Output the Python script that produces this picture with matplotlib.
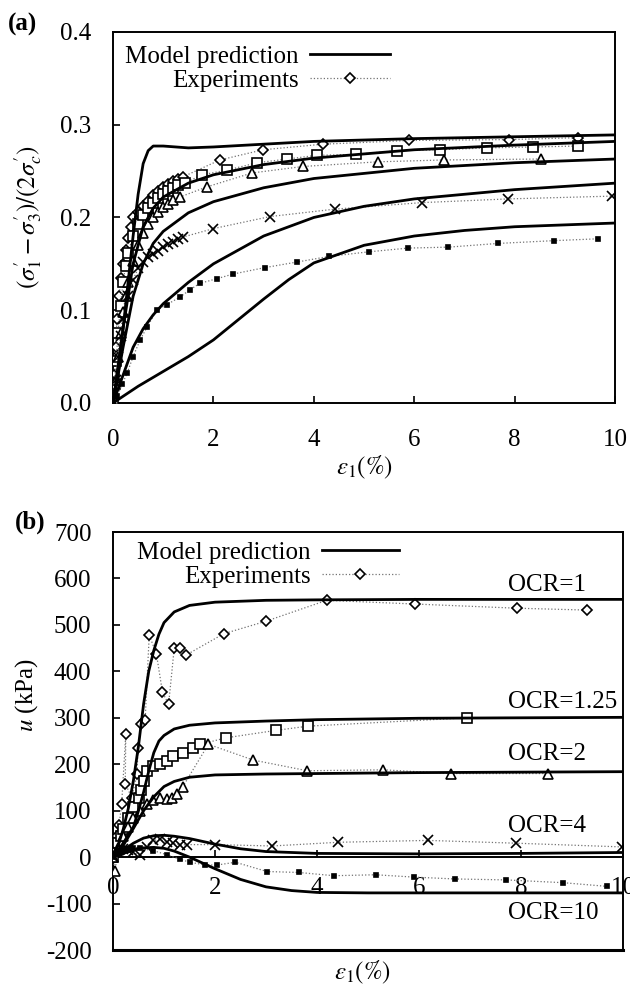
import numpy as np
import matplotlib
matplotlib.use("Agg")
import matplotlib.pyplot as plt

plt.rcParams['font.family'] = ['Liberation Serif', 'DejaVu Serif']
plt.rcParams['mathtext.fontset'] = 'stix'
plt.rcParams['axes.unicode_minus'] = False
plt.rcParams['font.size'] = 18

# ---------------- panel (a): stress ratio vs axial strain ----------------
# model predictions, one per OCR (1, 1.25, 2, 4, 10)
a_mod_x1 = [0, 0.1, 0.2, 0.3, 0.4, 0.5, 0.6, 0.7, 0.8, 1.0, 1.5, 2, 3, 4, 6, 8, 10]
a_mod_y1 = [0, 0.03, 0.08, 0.13, 0.18, 0.225, 0.258, 0.272, 0.277, 0.277, 0.275, 0.276, 0.279, 0.282, 0.285, 0.287, 0.289]
a_mod_x2 = [0, 0.2, 0.4, 0.6, 0.8, 1.0, 1.5, 2, 3, 4, 6, 8, 10]
a_mod_y2 = [0, 0.08, 0.15, 0.19, 0.21, 0.222, 0.237, 0.246, 0.257, 0.264, 0.273, 0.278, 0.282]
a_mod_x3 = [0, 0.2, 0.4, 0.6, 0.8, 1.0, 1.5, 2, 3, 4, 6, 8, 10]
a_mod_y3 = [0, 0.06, 0.115, 0.15, 0.172, 0.185, 0.205, 0.217, 0.232, 0.242, 0.253, 0.259, 0.263]
a_mod_x4 = [0, 0.2, 0.4, 0.6, 0.8, 1.0, 1.5, 2, 3, 4, 5, 6, 8, 10]
a_mod_y4 = [0, 0.03, 0.06, 0.08, 0.095, 0.107, 0.13, 0.15, 0.18, 0.2, 0.212, 0.22, 0.23, 0.237]
a_mod_x5 = [0, 0.5, 1, 1.5, 2, 2.5, 3, 3.5, 4, 5, 6, 7, 8, 9, 10]
a_mod_y5 = [0, 0.018, 0.034, 0.05, 0.068, 0.09, 0.112, 0.133, 0.151, 0.17, 0.18, 0.186, 0.19, 0.192, 0.194]

# experiments
a_exp_x1 = [0, 0.02, 0.05, 0.08, 0.12, 0.16, 0.2, 0.25, 0.3, 0.35, 0.4, 0.5, 0.6, 0.7, 0.8, 0.9, 1.0, 1.1, 1.2, 1.3, 1.4, 2.13, 2.99, 4.18, 5.9, 7.89, 9.27]
a_exp_y1 = [0, 0.03, 0.06, 0.09, 0.115, 0.135, 0.15, 0.165, 0.178, 0.19, 0.2, 0.206, 0.212, 0.218, 0.224, 0.229, 0.233, 0.236, 0.239, 0.242, 0.244, 0.262, 0.273, 0.279, 0.283, 0.284, 0.286]
a_exp_x2 = [0, 0.03, 0.06, 0.1, 0.15, 0.2, 0.25, 0.3, 0.4, 0.5, 0.6, 0.7, 0.8, 0.9, 1.0, 1.1, 1.2, 1.3, 1.43, 1.77, 2.27, 2.87, 3.47, 4.06, 4.84, 5.65, 6.51, 7.45, 8.37, 9.26]
a_exp_y2 = [0, 0.02, 0.045, 0.075, 0.105, 0.13, 0.148, 0.162, 0.18, 0.193, 0.203, 0.21, 0.216, 0.221, 0.225, 0.229, 0.232, 0.235, 0.237, 0.246, 0.251, 0.259, 0.263, 0.267, 0.268, 0.272, 0.273, 0.275, 0.276, 0.277]
a_exp_x3 = [0, 0.05, 0.1, 0.15, 0.2, 0.25, 0.3, 0.4, 0.5, 0.6, 0.7, 0.8, 0.9, 1.0, 1.1, 1.2, 1.33, 1.87, 2.77, 3.79, 5.28, 6.6, 8.52]
a_exp_y3 = [0, 0.025, 0.05, 0.075, 0.098, 0.115, 0.13, 0.153, 0.17, 0.183, 0.193, 0.2, 0.206, 0.211, 0.215, 0.219, 0.222, 0.233, 0.248, 0.255, 0.26, 0.262, 0.263]
a_exp_x4 = [0, 0.05, 0.1, 0.15, 0.2, 0.3, 0.4, 0.5, 0.6, 0.7, 0.8, 0.9, 1.0, 1.1, 1.2, 1.3, 1.4, 2.0, 3.13, 4.42, 6.15, 7.87, 9.94]
a_exp_y4 = [0, 0.025, 0.05, 0.072, 0.09, 0.115, 0.133, 0.145, 0.152, 0.157, 0.161, 0.164, 0.168, 0.171, 0.174, 0.177, 0.179, 0.188, 0.201, 0.209, 0.216, 0.22, 0.223]
a_exp_x5 = [0, 0.08, 0.18, 0.28, 0.4, 0.54, 0.68, 0.87, 1.07, 1.33, 1.53, 1.73, 2.07, 2.39, 3.03, 3.67, 4.3, 5.1, 5.88, 6.68, 7.67, 8.78, 9.66]
a_exp_y5 = [0, 0.007, 0.02, 0.032, 0.05, 0.068, 0.082, 0.1, 0.106, 0.114, 0.122, 0.129, 0.134, 0.139, 0.146, 0.152, 0.158, 0.163, 0.167, 0.168, 0.172, 0.175, 0.177]

# ---------------- panel (b): pore pressure vs axial strain ----------------
b_mod_x1 = [0, 0.1, 0.2, 0.3, 0.4, 0.5, 0.6, 0.7, 0.8, 0.9, 1.0, 1.2, 1.5, 2, 3, 4, 6, 8, 10]
b_mod_y1 = [0, 25, 60, 105, 165, 240, 330, 400, 445, 480, 505, 528, 542, 549, 553, 554, 555, 555, 555]
b_mod_x2 = [0, 0.2, 0.4, 0.5, 0.6, 0.7, 0.8, 0.9, 1.0, 1.2, 1.5, 2, 3, 4, 6, 8, 10]
b_mod_y2 = [0, 30, 65, 100, 140, 185, 225, 250, 262, 276, 284, 289, 293, 296, 299, 300, 301]
b_mod_x3 = [0, 0.2, 0.4, 0.6, 0.8, 1.0, 1.2, 1.5, 2, 3, 4, 6, 8, 10]
b_mod_y3 = [0, 25, 62, 100, 130, 152, 163, 172, 177, 179, 180, 182, 183, 184]
b_mod_x4 = [0, 0.2, 0.4, 0.6, 0.8, 1.0, 1.2, 1.5, 2, 2.5, 3, 4, 6, 8, 10]
b_mod_y4 = [0, 15, 30, 41, 46, 47, 45, 40, 28, 18, 12, 8, 7, 8, 10]
b_mod_x5 = [0, 0.2, 0.4, 0.6, 0.8, 1.0, 1.2, 1.5, 2, 2.5, 3, 3.5, 4, 5, 6, 8, 10]
b_mod_y5 = [0, 8, 15, 20, 21, 19, 13, 0, -25, -48, -64, -72, -76, -77, -77, -77, -77]

b_exp_x1 = [0, 0.04, 0.08, 0.12, 0.17, 0.25, 0.24, 0.37, 0.47, 0.49, 0.55, 0.63, 0.71, 0.85, 0.97, 1.09, 1.2, 1.32, 1.43, 2.17, 3.0, 4.19, 5.92, 7.92, 9.29]
b_exp_y1 = [0, 20, 45, 70, 115, 265, 158, 128, 179, 235, 286, 295, 478, 438, 355, 329, 450, 450, 435, 481, 508, 553, 545, 536, 532]
b_exp_x2 = [0, 0.05, 0.1, 0.15, 0.2, 0.3, 0.4, 0.5, 0.55, 0.6, 0.67, 0.79, 0.92, 1.06, 1.18, 1.38, 1.57, 1.71, 2.22, 3.2, 3.82, 6.95]
b_exp_y2 = [0, 15, 30, 45, 60, 85, 108, 128, 145, 164, 186, 196, 200, 207, 218, 225, 235, 243, 257, 273, 282, 300]
b_exp_x3 = [0, 0.04, 0.1, 0.2, 0.3, 0.4, 0.53, 0.67, 0.79, 0.92, 1.06, 1.16, 1.26, 1.37, 1.87, 2.75, 3.81, 5.3, 6.62, 8.53]
b_exp_y3 = [0, -30, 20, 45, 65, 85, 100, 115, 122, 128, 126, 128, 136, 152, 243, 209, 186, 188, 180, 180]
b_exp_x4 = [0, 0.1, 0.2, 0.3, 0.4, 0.53, 0.67, 0.79, 0.92, 1.06, 1.18, 1.32, 1.45, 2.0, 3.12, 4.42, 6.17, 7.9, 9.98]
b_exp_y4 = [0, 12, 18, 15, 10, 4, 21, 36, 38, 33, 30, 26, 27, 27, 24, 32, 36, 30, 22]
b_exp_x5 = [0, 0.1, 0.2, 0.3, 0.4, 0.53, 0.79, 1.06, 1.32, 1.51, 1.81, 2.04, 2.4, 3.02, 3.64, 4.33, 5.15, 5.9, 6.7, 7.7, 8.82, 9.69]
b_exp_y5 = [0, 8, 14, 18, 20, 19, 14, 5, -5, -11, -17, -17, -11, -31, -33, -40, -38, -43, -47, -49, -55, -63]

ocr_labels = ['OCR=1', 'OCR=1.25', 'OCR=2', 'OCR=4', 'OCR=10']
ocr_label_y = [587, 335, 222, 68, -120]

markers = ['D', 's', '^', 'x', 's']
msizes = [5.5, 7, 7, 7, 3]

fig = plt.figure(figsize=(6.3, 9.86), dpi=100)
ax1 = fig.add_axes([0.1794, 0.5913, 0.797, 0.3763])
ax2 = fig.add_axes([0.1794, 0.0365, 0.8095, 0.4239])


def draw_exp(ax, x, y, i, label=None):
    filled = (i == 4)
    ax.plot(x, y, linestyle=':', color='0.45', lw=0.9, marker=markers[i], ms=msizes[i],
            mfc='black' if filled else 'white', mec='black', mew=1.2, label=label, zorder=3)


mod_a = [(a_mod_x1, a_mod_y1), (a_mod_x2, a_mod_y2), (a_mod_x3, a_mod_y3), (a_mod_x4, a_mod_y4), (a_mod_x5, a_mod_y5)]
exp_a = [(a_exp_x1, a_exp_y1), (a_exp_x2, a_exp_y2), (a_exp_x3, a_exp_y3), (a_exp_x4, a_exp_y4), (a_exp_x5, a_exp_y5)]
mod_b = [(b_mod_x1, b_mod_y1), (b_mod_x2, b_mod_y2), (b_mod_x3, b_mod_y3), (b_mod_x4, b_mod_y4), (b_mod_x5, b_mod_y5)]
exp_b = [(b_exp_x1, b_exp_y1), (b_exp_x2, b_exp_y2), (b_exp_x3, b_exp_y3), (b_exp_x4, b_exp_y4), (b_exp_x5, b_exp_y5)]

for ax, mods, exps in [(ax1, mod_a, exp_a), (ax2, mod_b, exp_b)]:
    for i, (mx, my) in enumerate(mods):
        ax.plot(mx, my, color='black', lw=2.0, zorder=4, label='Model prediction' if i == 0 else None)
    for i, (ex, ey) in enumerate(exps):
        draw_exp(ax, ex, ey, i, label='Experiments' if i == 0 else None)
    for s in ax.spines.values():
        s.set_linewidth(1.4)
    ax.set_xlim(0, 10)
    ax.set_xticks([0, 2, 4, 6, 8, 10])
    ax.tick_params(direction='in', length=5, width=1.2, labelsize=18)


def make_legend(ax, anchor, hl):
    leg = ax.legend(loc='upper left', bbox_to_anchor=anchor, frameon=False, markerfirst=False,
                    numpoints=1, handlelength=hl, handletextpad=0.45, borderpad=0, borderaxespad=0,
                    labelspacing=0.05, fontsize=18)
    # right-align the rows so both handles line up under each other
    for col in leg._legend_handle_box.get_children():
        col.align = 'right'
    return leg


# panel (a) axes
ax1.set_ylim(0, 0.4)
ax1.set_yticks([0.0, 0.1, 0.2, 0.3, 0.4])
ax1.set_yticklabels(['0.0', '0.1', '0.2', '0.3', '0.4'])
ax1.tick_params(axis='x', pad=19)
ax1.tick_params(axis='y', pad=15.5)
ax1.set_xlabel(r'$\varepsilon_1(\%)$', fontsize=18, labelpad=2)
ax1.set_ylabel(r"$(\sigma_1^{\prime}-\sigma_3^{\prime})/(2\sigma_c^{\prime})$", fontsize=18)
ax1.yaxis.set_label_coords(-0.137, 0.5)
make_legend(ax1, (0.024, 0.963), 3.2)
fig.text(0.013, 0.975, '(a)', fontsize=18, fontweight='bold', va='center')

# panel (b) axes
ax2.set_ylim(-200, 700)
ax2.set_yticks(range(-200, 701, 100))
ax2.spines['bottom'].set_position(('data', 0))
ax2.axhline(-200, color='black', lw=2.2, clip_on=False)
ax2.tick_params(axis='x', pad=14)
ax2.tick_params(axis='y', pad=15.5)
ax2.set_xlabel(r'$\varepsilon_1(\%)$', fontsize=18)
ax2.xaxis.set_label_coords(0.49, -0.022)
ax2.set_ylabel(r'$u$ (kPa)', fontsize=18)
ax2.yaxis.set_label_coords(-0.143, 0.61)
make_legend(ax2, (0.047, 0.977), 3.1)
for lab, ly in zip(ocr_labels, ocr_label_y):
    ax2.text(7.74, ly, lab, fontsize=18, va='center', ha='left')
fig.text(0.024, 0.47, '(b)', fontsize=18, fontweight='bold', va='center')

fig.savefig('out.png', dpi=100, facecolor='white')
